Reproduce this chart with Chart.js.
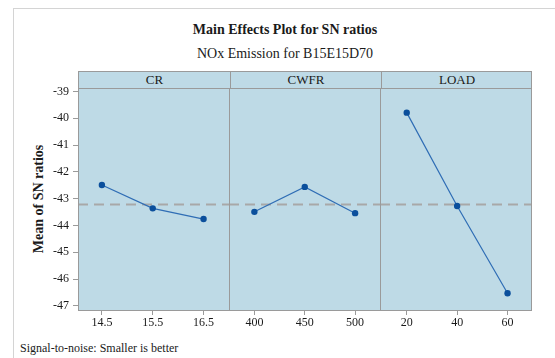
<!DOCTYPE html>
<html>
<head>
<meta charset="utf-8">
<script src="https://cdn.jsdelivr.net/npm/chart.js@4.4.0/dist/chart.umd.min.js"></script>
<style>
  body { margin: 0; width: 555px; height: 358px; background: #fff; position: relative; overflow: hidden; font-family: 'Liberation Serif', serif; color: #1a1a1a; }
  #frame { position: absolute; left: 13px; top: 8px; width: 600px; height: 400px; border: 1px solid #d4d4d4; }
  .txt { position: absolute; white-space: nowrap; }
  #title { left: 13px; width: 544px; top: 22px; text-align: center; font-weight: bold; font-size: 14px; }
  #subtitle { left: 13px; width: 544px; top: 46px; text-align: center; font-size: 14px; }
  #strip { position: absolute; left: 78px; top: 71px; width: 454px; height: 18px; box-sizing: border-box; border: 1px solid #9a9a9a; background: #bedae6; }
  .cell { position: absolute; top: 0; height: 16px; line-height: 16px; text-align: center; font-size: 13px; box-sizing: border-box; }
  #ylabel { left: 39px; top: 199px; font-weight: bold; font-size: 14px; transform: translate(-50%, -50%) rotate(-90deg); }
  #note { left: 20px; top: 341px; font-size: 12px; }
  canvas { position: absolute; top: 80px; }
</style>
</head>
<body>
<div id="frame"></div>
<div class="txt" id="title">Main Effects Plot for SN ratios</div>
<div class="txt" id="subtitle">NOx Emission for B15E15D70</div>
<div id="strip"></div>
<div class="txt" id="ylabel">Mean of SN ratios</div>
<canvas id="c1" width="230" height="260" style="left:0px"></canvas>
<canvas id="c2" width="152" height="260" style="left:229px"></canvas>
<canvas id="c3" width="152" height="260" style="left:380px"></canvas>
<div class="txt" id="note">Signal-to-noise: Smaller is better</div>
<script>
// factors and their levels
const factors = ['CR', 'CWFR', 'LOAD'];
const crLevels = [14.5, 15.5, 16.5];
const cwfrLevels = [400, 450, 500];
const loadLevels = [20, 40, 60];

// mean of SN ratios for each level
const crMeans = [-42.49, -43.36, -43.76];
const cwfrMeans = [-43.49, -42.56, -43.54];
const loadMeans = [-39.79, -43.27, -46.53];

const yTicks = [-47, -46, -45, -44, -43, -42, -41, -40, -39];

const allMeans = crMeans.concat(cwfrMeans, loadMeans);
const grandMean = allMeans.reduce((a, b) => a + b, 0) / allMeans.length;

// panel header strip
const strip = document.getElementById('strip');
factors.forEach((f, i) => {
    const d = document.createElement('div');
    d.className = 'cell';
    d.textContent = f;
    d.style.left = (i * 151) + 'px';
    d.style.width = '151px';
    if (i > 0) d.style.borderLeft = '1px solid #9a9a9a';
    strip.appendChild(d);
});

const panelPlugin = {
    id: 'panel',
    beforeDraw(chart) {
        const a = chart.chartArea, ctx = chart.ctx;
        ctx.save();
        ctx.fillStyle = '#bedae6';
        ctx.fillRect(a.left, a.top, a.right - a.left, a.bottom - a.top);
        ctx.restore();
    },
    beforeDatasetsDraw(chart) {
        const a = chart.chartArea, ctx = chart.ctx;
        const y = Math.round(chart.scales.y.getPixelForValue(grandMean)) + 0.5;
        ctx.save();
        ctx.strokeStyle = '#a8a8a8';
        ctx.lineWidth = 2;
        ctx.setLineDash([10, 6]);
        ctx.beginPath();
        ctx.moveTo(a.left, y);
        ctx.lineTo(a.right, y);
        ctx.stroke();
        ctx.restore();
    },
    afterDraw(chart) {
        const a = chart.chartArea, ctx = chart.ctx;
        ctx.save();
        ctx.strokeStyle = '#9a9a9a';
        ctx.lineWidth = 1;
        ctx.strokeRect(a.left + 0.5, a.top + 0.5, a.right - a.left - 1, a.bottom - a.top - 1);
        ctx.restore();
    }
};

const tickFont = { family: "'Liberation Serif', serif", size: 12 };

function makePanel(id, levels, means, xmin, xmax, showY) {
    const ctx = document.getElementById(id).getContext('2d');
    return new Chart(ctx, {
        type: 'line',
        data: {
            datasets: [{
                data: levels.map((v, i) => ({ x: v, y: means[i] })),
                borderColor: '#2f6db5',
                borderWidth: 1.2,
                pointRadius: 3.2,
                pointBackgroundColor: '#0b4f9c',
                pointBorderWidth: 0,
                tension: 0
            }]
        },
        options: {
            responsive: false,
            animation: false,
            layout: { autoPadding: false, padding: { top: 8, left: 0, right: 0, bottom: 0 } },
            plugins: { legend: { display: false }, tooltip: { enabled: false } },
            scales: {
                x: {
                    type: 'linear',
                    min: xmin,
                    max: xmax,
                    afterBuildTicks: s => { s.ticks = levels.map(v => ({ value: v })); },
                    afterFit: s => { s.height = 29; s.paddingLeft = 0; s.paddingRight = 0; },
                    grid: { drawOnChartArea: false, drawTicks: true, tickLength: 4, color: '#9a9a9a' },
                    border: { display: false },
                    ticks: { font: tickFont, color: '#1a1a1a', padding: 1, maxRotation: 0, callback: v => String(v) }
                },
                y: {
                    display: showY,
                    min: -47.19,
                    max: -38.87,
                    afterBuildTicks: s => { s.ticks = yTicks.map(v => ({ value: v })); },
                    afterFit: s => { s.width = showY ? 78 : 0; s.paddingTop = 0; s.paddingBottom = 0; },
                    grid: { drawOnChartArea: false, drawTicks: true, tickLength: 5, color: '#9a9a9a' },
                    border: { display: false },
                    ticks: { font: tickFont, color: '#1a1a1a', padding: 4, callback: v => String(v) }
                }
            }
        },
        plugins: [panelPlugin]
    });
}

makePanel('c1', crLevels, crMeans, 14.03, 17.02, true);
makePanel('c2', cwfrLevels, cwfrMeans, 374.8, 525.7, false);
makePanel('c3', loadLevels, loadMeans, 9.4, 69.7, false);
</script>
</body>
</html>
